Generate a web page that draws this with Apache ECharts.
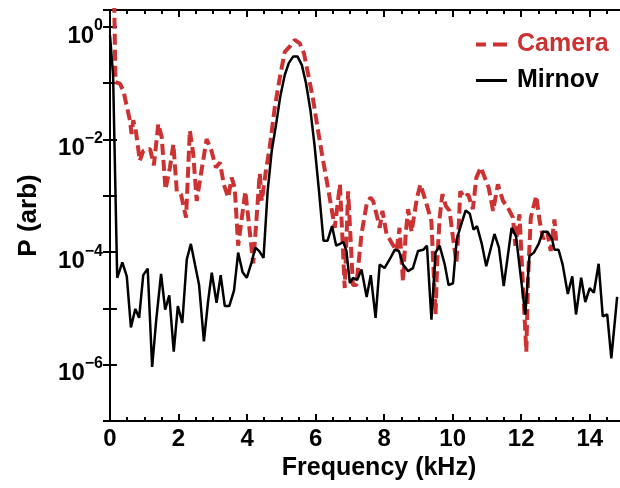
<!DOCTYPE html>
<html>
<head>
<meta charset="utf-8">
<script src="https://cdn.jsdelivr.net/npm/echarts@6/dist/echarts.min.js"></script>
<style>
  html, body { margin: 0; padding: 0; background: #fff; }
  #chart { width: 620px; height: 488px; }
</style>
</head>
<body>
<div id="chart"></div>
<script>
// Mirnov coil spectrum (kHz, arb. power)
var mirFreq = [0.00, 0.09, 0.21, 0.36, 0.49, 0.61, 0.74, 0.85, 0.97, 1.10,
  1.23, 1.35, 1.49, 1.61, 1.73, 1.86, 1.98, 2.11, 2.24, 2.36,
  2.48, 2.60, 2.74, 2.86, 2.97, 3.11, 3.23, 3.35, 3.48, 3.62,
  3.74, 3.87, 3.99, 4.13, 4.24, 4.35, 4.48, 4.60, 4.72, 4.85,
  4.97, 5.10, 5.22, 5.35, 5.47, 5.60, 5.72, 5.85, 5.97, 6.10,
  6.23, 6.35, 6.48, 6.60, 6.71, 6.81, 6.90, 7.00, 7.09, 7.21,
  7.34, 7.49, 7.61, 7.75, 7.87, 8.01, 8.16, 8.31, 8.43, 8.55,
  8.70, 8.84, 8.99, 9.14, 9.25, 9.38, 9.50, 9.62, 9.77, 9.88,
  10.01, 10.12, 10.25, 10.38, 10.50, 10.61, 10.71, 10.76, 10.85, 10.98,
  11.22, 11.35, 11.49, 11.72, 11.85, 11.98, 12.12, 12.24, 12.37, 12.51,
  12.63, 12.76, 12.90, 12.97, 13.09, 13.21, 13.36, 13.49, 13.60, 13.75,
  13.87, 14.00, 14.12, 14.26, 14.38, 14.51, 14.63, 14.80];
var mirPower = [0.71, 0.14, 3.5e-5, 6.6e-5, 3.7e-5, 4.6e-6, 9.8e-6, 6.8e-6, 3.9e-5, 5.1e-5,
  9.1e-7, 6.3e-6, 4.1e-5, 9.5e-6, 1.7e-5, 1.7e-6, 1.1e-5, 5.5e-6, 7.4e-5, 1.4e-4,
  6.0e-5, 2.6e-5, 2.6e-6, 1.3e-5, 4.3e-5, 1.26e-5, 3.9e-5, 1.1e-5, 1.1e-5, 2.1e-5,
  9.8e-5, 4.4e-5, 3.5e-5, 6.5e-5, 1.2e-4, 1.05e-4, 7.9e-5, 1.2e-3, 6.3e-3, 0.019,
  0.059, 0.14, 0.23, 0.30, 0.30, 0.21, 0.10, 0.033, 7.8e-3, 1.2e-3,
  1.6e-4, 1.6e-4, 2.9e-4, 1.3e-4, 1.4e-4, 1.5e-4, 1.05e-4, 2.8e-5, 3.5e-5, 3.2e-5,
  4.9e-5, 1.6e-5, 3.9e-5, 6.8e-6, 6.0e-5, 5.2e-5, 7.4e-5, 1.1e-4, 1.05e-4, 6.0e-5,
  4.6e-5, 5.2e-5, 1.05e-4, 1.1e-4, 1.3e-4, 6.3e-6, 9.8e-5, 1.3e-4, 6.0e-5, 2.6e-5,
  2.8e-5, 1.7e-4, 3.1e-4, 5.5e-4, 4.8e-4, 2.5e-4, 2.9e-4, 3.0e-4, 1.4e-4, 5.6e-5,
  2.1e-4, 1.2e-4, 2.5e-5, 2.7e-4, 1.9e-4, 4.0e-5, 7.8e-6, 8.5e-5, 9.8e-5, 1.4e-4,
  2.3e-4, 2.3e-4, 1.7e-4, 1.1e-4, 1.1e-4, 6.0e-5, 1.8e-5, 3.7e-5, 7.8e-6, 3.5e-5,
  1.3e-5, 2.3e-5, 1.9e-5, 6.2e-5, 7.2e-6, 7.8e-6, 1.3e-6, 1.6e-5];

// Camera spectrum
var camFreq = [0.10, 0.16, 0.29, 0.39, 0.58, 0.63, 0.68, 0.76, 0.87, 0.97,
  1.17, 1.28, 1.41, 1.51, 1.62, 1.75, 1.85, 1.95, 2.07, 2.22,
  2.33, 2.43, 2.53, 2.67, 2.82, 2.96, 3.09, 3.21, 3.32, 3.45,
  3.55, 3.64, 3.74, 3.95, 4.18, 4.27, 4.37, 4.43, 4.55, 4.66,
  4.81, 4.96, 5.10, 5.25, 5.39, 5.54, 5.66, 5.78, 5.93, 6.07,
  6.22, 6.36, 6.46, 6.56, 6.71, 6.85, 6.95, 7.09, 7.19, 7.34,
  7.49, 7.60, 7.68, 7.79, 7.87, 7.95, 8.07, 8.21, 8.36, 8.45,
  8.55, 8.63, 8.70, 8.80, 8.96, 9.06, 9.18, 9.28, 9.38, 9.50,
  9.55, 9.62, 9.70, 9.80, 9.91, 10.01, 10.11, 10.18, 10.22, 10.35,
  10.45, 10.59, 10.69, 10.82, 11.05, 11.18, 11.32, 11.47, 11.61, 11.76,
  11.83, 11.95, 12.05, 12.15, 12.20, 12.28, 12.44, 12.54, 12.64, 12.76,
  12.86, 12.97, 13.02];
var camPower = [20, 0.105, 0.098, 0.074, 0.022, 0.0126, 0.022, 0.0135, 4.2e-3, 6.3e-3,
  6.8e-3, 3.5e-3, 0.019, 0.011, 1.3e-3, 3.2e-3, 8.3e-3, 1.2e-3, 1.07e-3, 4.1e-4,
  0.0145, 5.5e-3, 8.1e-4, 2.8e-3, 0.0102, 6.3e-3, 3.2e-3, 3.9e-3, 1.6e-3, 9.3e-4,
  2.1e-3, 1.4e-3, 1.3e-4, 1.2e-3, 6.3e-5, 3.5e-4, 2.5e-3, 8.1e-4, 2.8e-3, 7.2e-3,
  0.038, 0.13, 0.36, 0.45, 0.59, 0.51, 0.34, 0.148, 0.05, 0.0145,
  4.2e-3, 1.4e-3, 6.2e-4, 2.7e-4, 1.6e-3, 2.3e-5, 1.2e-3, 2.6e-5, 2.6e-5, 2.1e-4,
  7.1e-4, 9.3e-4, 8.1e-4, 4.4e-4, 2.7e-4, 5.4e-4, 2.1e-4, 1.5e-4, 1.05e-4, 2.7e-4,
  3.0e-5, 2.1e-4, 5.8e-4, 2.3e-4, 9.3e-4, 1.6e-3, 9.3e-4, 5.8e-4, 3.5e-4, 7.8e-6,
  6.9e-5, 4.1e-4, 1.07e-3, 6.6e-4, 5.4e-4, 1.8e-4, 6.5e-5, 3.1e-4, 1.2e-3, 9.3e-4,
  1.07e-3, 5.8e-4, 2.1e-3, 3.2e-3, 1.4e-3, 5.4e-4, 1.6e-3, 8.1e-4, 6.2e-4, 4.1e-4,
  1.3e-4, 4.7e-4, 2.6e-5, 1.7e-6, 3.5e-5, 4.1e-4, 1.0e-3, 3.5e-4, 1.7e-4, 2.3e-4,
  1.05e-4, 3.8e-4, 1.6e-4];

var yLabelExps = [0, -2, -4, -6];   // decades that carry a label
var xTickStep = 2;

var FONT = "'Liberation Sans', Arial, Helvetica, sans-serif";
var RED = '#cd3232';

function pairs(xs, ys) {
  var out = [];
  for (var i = 0; i < xs.length; i++) out.push([xs[i], ys[i]]);
  return out;
}

var chart = echarts.init(document.getElementById('chart'));

var xCommon = {
  type: 'value',
  min: 0,
  max: 15,
  interval: xTickStep,
  axisLine: { lineStyle: { color: '#000', width: 2 } },
  axisTick: { inside: true, length: 7, lineStyle: { color: '#000', width: 2 } },
  minorTick: { show: true, splitNumber: 4, length: 4, lineStyle: { color: '#000', width: 2 } },
  splitLine: { show: false }
};
var yCommon = {
  type: 'log',
  logBase: 10,
  min: 1e-7,
  max: 2,
  axisLine: { lineStyle: { color: '#000', width: 2 } },
  axisTick: { inside: true, length: 7, lineStyle: { color: '#000', width: 2 } },
  splitLine: { show: false }
};

chart.setOption({
  animation: false,
  grid: { left: 110, right: -4, top: 10, bottom: 67, outerBoundsMode: 'none', containLabel: false },
  legend: {
    orient: 'vertical',
    left: 471,
    top: 25,
    itemWidth: 31,
    itemHeight: 4,
    itemGap: 7,
    textStyle: { fontFamily: FONT, fontWeight: 'bold', fontSize: 25, lineHeight: 29, padding: [0, 0, 0, 5] },
    data: [
      { name: 'Camera', icon: 'path://M0,0h10v4h-10zM17,0h14v4h-14z', itemStyle: { color: RED }, textStyle: { color: RED } },
      { name: 'Mirnov', icon: 'path://M0,0.5h31v3h-31z', itemStyle: { color: '#000' }, textStyle: { color: '#000' } }
    ]
  },
  xAxis: [
    Object.assign({}, xCommon, {
      position: 'bottom',
      name: 'Frequency (kHz)',
      nameLocation: 'middle',
      nameGap: 30,
      nameTextStyle: { fontFamily: FONT, fontWeight: 'bold', fontSize: 25, color: '#000', padding: [0, 0, 0, 24] },
      axisLabel: {
        margin: 6, color: '#000', fontFamily: FONT, fontWeight: 'bold', fontSize: 24,
        showMaxLabel: false,
        formatter: function (v) { return v % xTickStep === 0 ? String(v) : ''; }
      }
    }),
    Object.assign({}, xCommon, { position: 'top', axisLabel: { show: false } })
  ],
  yAxis: [
    Object.assign({}, yCommon, {
      position: 'left',
      name: 'P (arb)',
      nameLocation: 'middle',
      nameGap: 68,
      nameTextStyle: { fontFamily: FONT, fontWeight: 'bold', fontSize: 26, color: '#000' },
      axisLabel: {
        margin: 7,
        padding: [12, 0, 0, 0],
        showMaxLabel: false,
        formatter: function (v) {
          var l = Math.log10(v);
          var e = Math.round(l);
          if (Math.abs(l - e) > 1e-6 || yLabelExps.indexOf(e) < 0) return '';
          return '{b|10}{s|' + (e < 0 ? '\u2212' + (-e) : e) + '}';
        },
        rich: {
          b: { fontFamily: FONT, fontWeight: 'bold', fontSize: 24, color: '#000', lineHeight: 30, verticalAlign: 'bottom' },
          s: { fontFamily: FONT, fontWeight: 'bold', fontSize: 16, color: '#000', lineHeight: 16, verticalAlign: 'top' }
        }
      }
    }),
    Object.assign({}, yCommon, { position: 'right', axisLabel: { show: false } })
  ],
  series: [
    {
      name: 'Camera',
      type: 'line',
      symbol: 'none',
      xAxisIndex: 0,
      yAxisIndex: 0,
      lineStyle: { color: RED, width: 4, type: [11, 5] },
      itemStyle: { color: RED },
      data: pairs(camFreq, camPower)
    },
    {
      name: 'Mirnov',
      type: 'line',
      symbol: 'none',
      xAxisIndex: 0,
      yAxisIndex: 0,
      lineStyle: { color: '#000', width: 2.5 },
      itemStyle: { color: '#000' },
      data: pairs(mirFreq, mirPower)
    }
  ]
});
</script>
</body>
</html>
